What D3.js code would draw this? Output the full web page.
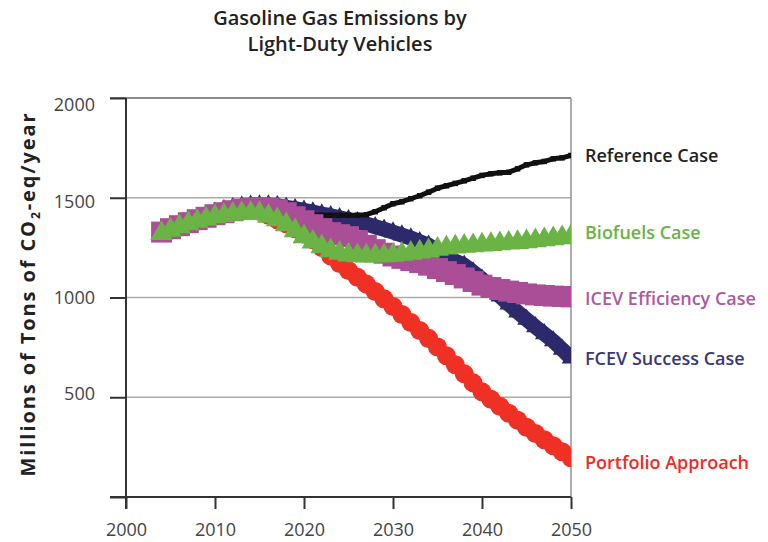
<!DOCTYPE html>
<html><head><meta charset="utf-8">
<script src="https://cdn.jsdelivr.net/npm/d3@7"></script>
<style>
html,body{margin:0;padding:0;background:#fff;}
svg{display:block;font-family:"Open Sans",sans-serif;}
</style></head>
<body><svg id="chart" width="768" height="542"></svg>
<script>
// ---------- DATA ----------
const years = [2004,2005,2006,2007,2008,2009,2010,2011,2012,2013,2014,2015,2016,2017,2018,2019,2020,2021,2022,2023,2024,2025,2026,2027,2028,2029,2030,2031,2032,2033,2034,2035,2036,2037,2038,2039,2040,2041,2042,2043,2044,2045,2046,2047,2048,2049,2050];
const referenceCase = [1325,1345,1365,1380,1395,1405,1415,1425,1435,1442,1448,1450,1450,1445,1435,1425,1418,1413,1412,1412,1412,1412,1412,1415,1430,1450,1470,1480,1495,1510,1528,1548,1560,1572,1585,1598,1612,1620,1625,1628,1645,1665,1675,1682,1695,1700,1712];
const biofuelsCase = [1321,1338,1355,1370,1382,1394,1405,1412,1418,1421,1423,1421,1408,1390,1365,1335,1305,1278,1255,1235,1222,1213,1210,1208,1208,1210,1212,1217,1222,1228,1235,1242,1248,1254,1257,1260,1263,1266,1270,1273,1276,1280,1285,1290,1295,1300,1305];
const icevEfficiencyCase = [1328,1345,1360,1375,1390,1402,1415,1425,1435,1443,1448,1450,1448,1440,1425,1405,1385,1365,1345,1325,1315,1305,1285,1262,1240,1222,1208,1196,1185,1175,1162,1145,1130,1115,1098,1080,1062,1050,1040,1032,1025,1018,1013,1010,1007,1005,1003];
const fcevSuccessCase = [1328,1350,1368,1385,1400,1414,1427,1440,1450,1458,1462,1464,1464,1460,1452,1445,1437,1428,1418,1410,1400,1390,1380,1368,1355,1342,1328,1313,1298,1280,1262,1232,1202,1182,1162,1128,1092,1050,1007,967,927,890,853,818,782,740,696];
const portfolioApproach = [1328,1345,1362,1378,1392,1405,1417,1427,1435,1440,1441,1432,1412,1390,1370,1345,1318,1290,1250,1208,1170,1135,1102,1067,1030,993,955,915,875,835,795,752,708,663,618,572,527,490,455,420,385,350,318,287,257,227,197];
const xTicks = [2000,2010,2020,2030,2040,2050];
const yTicks = [0,500,1000,1500,2000];
const yLabels = [500,1000,1500,2000];
const seriesNames = ["Reference Case","Biofuels Case","ICEV Efficiency Case","FCEV Success Case","Portfolio Approach"];
const titleLines = ["Gasoline Gas Emissions by","Light-Duty Vehicles"];

// ---------- LAYOUT ----------
const svg = d3.select("#chart");
const L = 126, R = 571, T = 98, B = 497;
const x = d3.scaleLinear().domain([2000,2050]).range([L,R]);
const y = d3.scaleLinear().domain([0,2000]).range([B,T]);
const yLab = d3.scaleLinear().domain([500,2000]).range([394,105]);

// title
svg.append("g").selectAll("text").data(titleLines).join("text")
  .attr("x",340).attr("y",(d,i)=>25+i*26)
  .attr("text-anchor","middle").attr("font-size",20).attr("font-weight",600)
  .attr("fill","#222").text(d=>d);

// gridlines
svg.append("g").selectAll("line").data([500,1000,1500]).join("line")
  .attr("x1",L).attr("x2",R).attr("y1",d=>y(d)).attr("y2",d=>y(d))
  .attr("stroke","#aaa").attr("stroke-width",1.6);
svg.append("line").attr("x1",L-16).attr("x2",R).attr("y1",y(2000)).attr("y2",y(2000))
  .attr("stroke","#666").attr("stroke-width",1.6);
svg.append("line").attr("x1",R).attr("x2",R).attr("y1",T).attr("y2",B)
  .attr("stroke","#999").attr("stroke-width",1.6);

// y axis ticks
const yAx = svg.append("g").attr("transform",`translate(${L},0)`)
  .call(d3.axisLeft(y).tickValues(yTicks).tickSize(16).tickFormat(""));
yAx.select(".domain").remove();
yAx.selectAll(".tick text").remove();
yAx.selectAll(".tick line").attr("stroke","#333").attr("stroke-width",2);
svg.append("line").attr("x1",L).attr("x2",L).attr("y1",T).attr("y2",B+12)
  .attr("stroke","#333").attr("stroke-width",2);

// y labels
svg.append("g").selectAll("text").data(yLabels).join("text")
  .attr("x",95).attr("y",d=>yLab(d)).attr("dy","0.36em")
  .attr("text-anchor","end").attr("font-size",18)
  .attr("fill","#444").text(d=>d);

// x axis
const xAx = svg.append("g").attr("transform",`translate(0,${B})`)
  .call(d3.axisBottom(x).tickValues(xTicks).tickSize(12).tickPadding(14).tickFormat(d3.format("d")));
xAx.select(".domain").remove();
xAx.selectAll(".tick line").attr("stroke","#333").attr("stroke-width",2);
xAx.selectAll(".tick text").attr("font-size",18)
  .attr("fill","#444").attr("font-family","Open Sans, sans-serif");
svg.append("line").attr("x1",L-16).attr("x2",R).attr("y1",B).attr("y2",B)
  .attr("stroke","#333").attr("stroke-width",2);

// y-axis title
const yt = svg.append("text").attr("transform","translate(35,294) rotate(-90)")
  .attr("text-anchor","middle").attr("font-size",20).attr("font-weight",700)
  .attr("letter-spacing",1.9).attr("fill","#222");
yt.append("tspan").text("Millions of Tons of CO");
yt.append("tspan").attr("font-size",12).attr("dy",5).text("2");
yt.append("tspan").attr("dy",-5).text("-eq/year");

// ---------- SERIES ----------
svg.append("clipPath").attr("id","clip").append("rect")
  .attr("x",L).attr("y",0).attr("width",R-L).attr("height",B);
const plot = svg.append("g").attr("clip-path","url(#clip)");

const pts = vals => years.map((yr,i)=>[x(yr),y(vals[i])]);
function markers(vals, type, size, color){
  plot.append("g").selectAll("path").data(pts(vals)).join("path")
    .attr("transform",d=>`translate(${d[0]},${d[1]})`)
    .attr("d",d3.symbol().type(type).size(size)())
    .attr("fill",color);
}
function band(vals, width, color){
  plot.append("path").datum(pts(vals))
    .attr("d",d3.line()).attr("fill","none").attr("stroke",color)
    .attr("stroke-width",width).attr("stroke-linejoin","round");
}

markers(portfolioApproach, d3.symbolCircle, 285, "#ee3124");
band(fcevSuccessCase, 15, "#2c2a6b");
markers(fcevSuccessCase, d3.symbolTriangle, 150, "#2c2a6b");
band(referenceCase, 5, "#111");
markers(referenceCase, d3.symbolSquare, 30, "#111");
markers(icevEfficiencyCase, d3.symbolSquare, 440, "#a94e97");
markers(biofuelsCase, d3.symbolTriangle, 225, "#6ab344");

// ---------- LABELS ----------
const lastVals = [referenceCase, biofuelsCase, icevEfficiencyCase, fcevSuccessCase, portfolioApproach].map(a=>a[a.length-1]);
const labColors = ["#222","#6ab344","#ad5a9f","#3a3977","#ee2b24"];
const nudge = [0,-4,2,0,5];
svg.append("g").selectAll("text").data(seriesNames).join("text")
  .attr("x",585).attr("y",(d,i)=>y(lastVals[i])+nudge[i]).attr("dy","0.36em")
  .attr("font-size",18).attr("font-weight",600).attr("fill",(d,i)=>labColors[i])
  .text(d=>d);
</script></body></html>
